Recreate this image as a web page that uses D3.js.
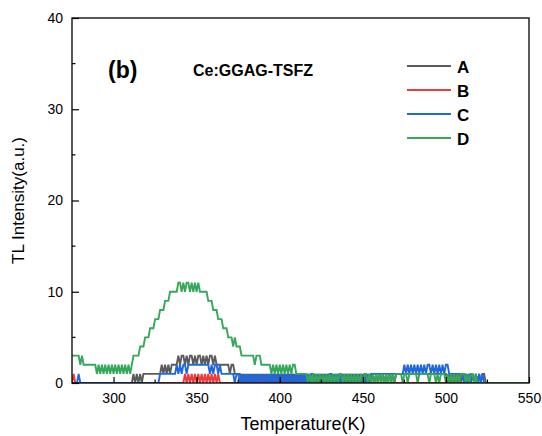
<!DOCTYPE html>
<html>
<head>
<meta charset="utf-8">
<script src="https://cdn.jsdelivr.net/npm/d3@7"></script>
<style>
  html, body { margin: 0; padding: 0; background: #fff; }
  svg { display: block; font-family: Arial, "Liberation Sans", sans-serif; }
</style>
</head>
<body>
<svg id="chart" width="542" height="436"></svg>
<script>
// TL glow curves, sampled every 1 K from 275 K
const tStart = 275, tEnd = 550;
const temperature = d3.range(tStart, tEnd + 1, 1);

const seriesNames = ["A", "B", "C", "D"];
const seriesColors = ["#5b5b5b", "#f03b3b", "#1f68e0", "#35a85a"];

const valuesA = [
  0,0,0,0,0,0,0,0,0,0,  0,0,0,0,0,0,0,0,0,0,
  0,0,0,0,0,0,0,0,0,0,  0,0,0,0,0,0,0,1,0,1,
  0,1,0,1,1,1,1,1,1,1,  1,1,1,1,2,1,2,1,2,1,
  2,2,2,2,3,2,3,3,2,3,  2,3,3,2,3,2,3,3,2,3,
  2,3,2,3,3,2,3,2,2,2,  2,2,2,2,2,1,2,2,1,1,
  1,1,0,1,0,1,0,1,0,1,  0,1,0,1,0,1,0,1,0,1,
  0,1,0,1,0,1,0,1,0,1,  0,1,0,1,0,1,0,1,0,1,
  0,1,0,1,0,0,1,0,1,0,  1,0,1,0,1,0,0,1,0,1,
  0,1,0,1,0,1,0,1,0,1,  0,1,0,1,0,1,0,1,0,1,
  0,1,0,1,0,1,0,1,0,1,  0,1,0,1,0,1,1,1,1,1,
  1,1,1,1,1,1,1,1,1,1,  1,1,1,1,1,1,1,1,1,1,
  1,1,1,1,1,1,0,1,0,1,  0,1,0,1,0,1,0,1,0,1,
  0,1,0,1,0,1,0,1,1,0,  0,0
];

const valuesB = [
  0,1,0,0,0,0,0,0,0,0,  0,0,0,0,0,0,0,0,0,0,
  0,0,0,0,0,0,0,0,0,0,  0,0,0,0,0,0,0,0,0,0,
  0,0,0,0,0,0,0,0,0,0,  0,0,0,0,0,0,0,0,0,0,
  0,0,0,0,0,0,0,0,1,0,  1,0,1,0,1,0,1,0,1,0,
  1,0,1,0,1,0,1,0,1,0,  0,0,0,0,0,0,0,0,0,0,
  0,0,0,0,0,0,0,0,0,0,  0,0,0,0,0,0,0,0,0,0,
  0,0,0,0,0,0,0,0,0,0,  0,0,0,0,0,0,0,0,0,0,
  0,0,0,0,0,0,0,0,0,0,  0,0,0,0,0,0,0,0,0,0,
  0,0,0,0,0,0,0,0,0,0,  0,0,0,0,0,0,0,0,0,0,
  0,0,0,0,0,0,0,0,0,0,  0,0,0,0,0,0,0,0,0,0,
  0,0,0,0,0,0,0,0,0,0,  0,0,0,0,0,0,0,0,0,0,
  0,0,0,0,0,0,0,0,0,0,  0,0,0,0,0,0,0,0,0,0,
  0,0,0,0,0,0,0,0,0,0
];

const valuesC = [
  0,0,0,0,1,0,0,0,0,0,  0,0,0,0,0,0,0,0,0,0,
  0,0,0,0,0,0,0,0,0,0,  0,0,0,0,0,0,0,0,0,0,
  0,0,0,0,0,0,0,0,0,0,  0,0,0,1,1,1,1,1,1,1,
  1,1,1,2,1,2,1,2,2,1,  2,2,2,2,2,2,2,2,2,2,
  2,2,2,1,2,1,2,2,1,2,  1,1,1,1,1,1,1,1,0,1,
  1,0,1,0,1,0,1,0,1,0,  1,0,1,0,1,0,1,0,1,0,
  1,0,1,0,1,0,1,0,1,0,  1,0,1,0,1,0,1,0,1,0,
  1,0,1,0,1,1,0,1,0,1,  0,1,0,1,0,1,1,0,1,0,
  1,0,1,0,1,0,1,0,1,0,  1,0,1,0,1,0,1,0,1,0,
  1,1,1,1,1,1,1,1,1,1,  1,1,1,1,1,1,1,1,1,1,
  2,1,2,1,2,1,2,1,2,1,  2,1,2,1,2,2,1,2,1,2,
  1,2,1,2,1,2,2,1,1,1,  1,1,1,1,1,1,0,1,0,1,
  0,1,0,1,0,1,0,1,0,0,  0,0,0,0,0,0,0,0,0,0,
  0,0,0,0,0,0,0,0,0,0,  0,0,0,0,0,0
];

const valuesD = [
  3,3,3,3,3,2,3,2,2,2,  2,2,2,2,2,1,2,1,2,1,
  2,1,2,1,2,1,2,1,2,1,  2,1,2,1,2,1,2,3,3,3,
  3,4,4,4,5,5,5,6,6,6,  7,7,7,8,8,8,9,9,9,10,
  10,10,10,10,11,11,10,11,10,11,  11,10,11,10,11,10,11,10,10,10,
  10,10,9,9,9,8,8,8,7,7,  7,6,6,6,5,5,5,4,5,4,
  4,4,3,3,3,3,3,3,3,3,  2,3,3,3,2,2,2,2,2,2,
  1,2,1,2,1,2,1,2,1,2,  1,2,1,2,2,1,1,1,1,1,
  1,1,0,1,0,1,0,1,0,1,  0,1,0,1,0,1,0,1,0,1,
  0,1,1,0,1,0,1,0,1,0,  1,0,1,0,1,0,1,1,0,1,
  0,1,0,1,0,1,0,1,0,1,  0,1,0,1,0,1,1,1,1,0,
  1,1,0,1,1,1,1,1,0,1,  1,1,1,1,1,0,1,1,1,0,
  1,0,1,1,1,0,1,0,1,0,  1,0,1,0,1,1,1,0,1,0,
  1,1,0,1,0,0,0,0,0,0,  0,0,0,0,0,0,0,0,0,0,
  0,0,0,0,0,0,0,0,0,0,  0,0,0,0,0,0
];

const seriesValues = [valuesA, valuesB, valuesC, valuesD];

const xTicks = [300, 350, 400, 450, 500, 550];
const xMinorTicks = [325, 375, 425, 475, 525];
const yTicks = [0, 10, 20, 30, 40];
const yMinorTicks = [5, 15, 25, 35];

const panelLabel = "(b)";
const sampleLabel = "Ce:GGAG-TSFZ";
const xTitle = "Temperature(K)";
const yTitle = "TL Intensity(a.u.)";

// ---- layout ----
const svg = d3.select("#chart");
const plot = { left: 72, right: 529, top: 18, bottom: 383 };

const x = d3.scaleLinear().domain([tStart, tEnd]).range([plot.left, plot.right]);
const y = d3.scaleLinear().domain([0, 40]).range([plot.bottom, plot.top]);

// ---- curves ----
const line = d3.line()
  .x(d => x(d.t))
  .y(d => y(d.v));

svg.append("clipPath").attr("id", "plot-clip")
  .append("rect")
  .attr("x", plot.left).attr("y", plot.top - 2)
  .attr("width", plot.right - plot.left).attr("height", plot.bottom - plot.top + 2);

const curves = svg.append("g").attr("clip-path", "url(#plot-clip)");
seriesValues.forEach((vals, k) => {
  const pts = vals.map((v, i) => ({ t: temperature[i], v }));
  curves.append("path")
    .datum(pts)
    .attr("fill", "none")
    .attr("stroke", seriesColors[k])
    .attr("stroke-width", 1.9)
    .attr("stroke-linejoin", "miter")
    .attr("d", line);
});

// ---- axes (ticks point inward) ----
const xAxis = d3.axisBottom(x).tickValues(xTicks).tickSizeInner(-6).tickSizeOuter(0).tickPadding(10);
const gx = svg.append("g").attr("transform", `translate(0,${plot.bottom})`).call(xAxis);
gx.select(".domain").remove();
gx.selectAll("text").attr("font-size", 14).attr("fill", "#000")
  .attr("font-family", "Arial, 'Liberation Sans', sans-serif");
gx.selectAll("line").attr("stroke", "#000").attr("stroke-width", 1.2);

svg.append("g").selectAll("line").data(xMinorTicks).join("line")
  .attr("x1", d => x(d)).attr("x2", d => x(d))
  .attr("y1", plot.bottom).attr("y2", plot.bottom - 3.5)
  .attr("stroke", "#000").attr("stroke-width", 1.2);

const yAxis = d3.axisLeft(y).tickValues(yTicks).tickSizeInner(-7).tickSizeOuter(0).tickPadding(9);
const gy = svg.append("g").attr("transform", `translate(${plot.left},0)`).call(yAxis);
gy.select(".domain").remove();
gy.selectAll("text").attr("font-size", 14).attr("fill", "#000")
  .attr("font-family", "Arial, 'Liberation Sans', sans-serif");
gy.selectAll("line").attr("stroke", "#000").attr("stroke-width", 1.2);

svg.append("g").selectAll("line").data(yMinorTicks).join("line")
  .attr("x1", plot.left).attr("x2", plot.left + 3.5)
  .attr("y1", d => y(d)).attr("y2", d => y(d))
  .attr("stroke", "#000").attr("stroke-width", 1.2);

// frame
svg.append("rect")
  .attr("x", plot.left).attr("y", plot.top)
  .attr("width", plot.right - plot.left).attr("height", plot.bottom - plot.top)
  .attr("fill", "none").attr("stroke", "#000").attr("stroke-width", 1.3);

// ---- titles ----
svg.append("text")
  .attr("x", 303).attr("y", 430)
  .attr("text-anchor", "middle").attr("font-size", 18)
  .text(xTitle);

svg.append("text")
  .attr("transform", `translate(24,${(plot.top + plot.bottom) / 2}) rotate(-90)`)
  .attr("text-anchor", "middle").attr("font-size", 17)
  .text(yTitle);

svg.append("text")
  .attr("x", 108).attr("y", 78)
  .attr("font-size", 23).attr("font-weight", "bold")
  .text(panelLabel);

svg.append("text")
  .attr("x", 193).attr("y", 76)
  .attr("font-size", 16).attr("font-weight", "bold")
  .text(sampleLabel);

// ---- legend ----
const legend = svg.append("g");
const legendY = [66, 90, 114, 138];
seriesNames.forEach((name, k) => {
  legend.append("line")
    .attr("x1", 407).attr("x2", 451)
    .attr("y1", legendY[k]).attr("y2", legendY[k])
    .attr("stroke", seriesColors[k]).attr("stroke-width", 1.9);
  legend.append("text")
    .attr("x", 457).attr("y", legendY[k] + 6.5)
    .attr("font-size", 17).attr("font-weight", "bold")
    .text(name);
});
</script>
</body>
</html>
